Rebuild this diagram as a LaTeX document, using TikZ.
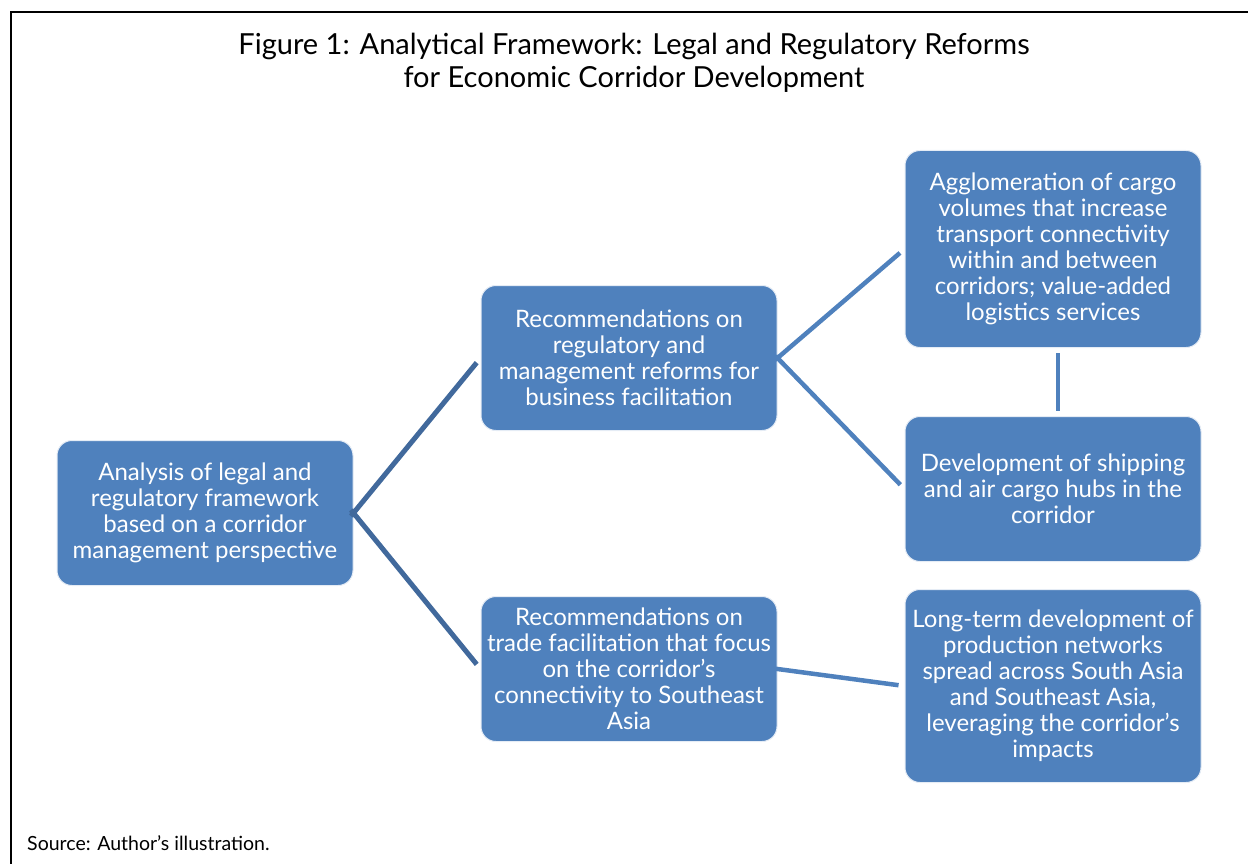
\documentclass[tikz,border=0pt]{standalone}
\usepackage{fontspec}
\setmainfont{Lato}
\definecolor{boxblue}{HTML}{4F81BD}
\definecolor{linkblue}{HTML}{41699C}
\tikzset{
  box/.style={draw=white!85!boxblue, line width=1pt, fill=boxblue, rounded corners=15pt, text=white,
    minimum width=296pt, align=center, font=\fontsize{24}{26}\selectfont, inner sep=0pt},
  link/.style={line width=5pt, draw=linkblue},
  sublink/.style={line width=4.5pt, draw=boxblue}
}
\begin{document}
\begin{tikzpicture}[x=1pt,y=-1pt]
\useasboundingbox (0,0) rectangle (1248,864);
\draw [line width=2pt] (11,864) |- (1248,12);

\node [font=\fontsize{29}{33}\selectfont, align=center] (title) at (634,63)
  {Figure 1: Analytical Framework: Legal and Regulatory Reforms\\for Economic Corridor Development};
\node [font=\fontsize{19.5}{22}\selectfont, anchor=base west, inner sep=0pt] (src) at (27,850) {Source: Author’s illustration.};

\node [box, minimum height=145pt] (analysis) at (205,513)
  {Analysis of legal and\\regulatory framework\\based on a corridor\\management perspective};
\node [box, minimum height=145pt] (regrec) at (629,358)
  {Recommendations on\\regulatory and\\management reforms for\\business facilitation};
\node [box, minimum height=145pt] (traderec) at (629,669)
  {Recommendations on\\trade facilitation that focus\\on the corridor’s\\connectivity to Southeast\\Asia};
\node [box, minimum height=197pt] (cargo) at (1053,249)
  {Agglomeration of cargo\\volumes that increase\\transport connectivity\\within and between\\corridors; value-added\\logistics services};
\node [box, minimum height=145pt] (hubs) at (1053,489)
  {Development of shipping\\and air cargo hubs in the\\corridor};
\node [box, minimum height=193pt] (networks) at (1053,686)
  {Long-term development of\\production networks\\spread across South Asia\\and Southeast Asia,\\leveraging the corridor’s\\impacts};

\draw [link, shorten <=-4pt, shorten >=6pt] (analysis.east) -- (regrec.west);
\draw [link, shorten <=-4pt, shorten >=6pt] (analysis.east) -- (traderec.west);
\draw [sublink, shorten <=-3pt, shorten >=6pt] (regrec.east) -- (cargo.west);
\draw [sublink, shorten <=-3pt, shorten >=6pt] (regrec.east) -- (hubs.west);
\draw [sublink, shorten <=-3pt, shorten >=6pt] (traderec.east) -- (networks.west);
\draw [sublink, shorten <=5pt, shorten >=5pt] ([xshift=5pt]cargo.south) -- ([xshift=5pt]hubs.north);
\end{tikzpicture}
\end{document}
